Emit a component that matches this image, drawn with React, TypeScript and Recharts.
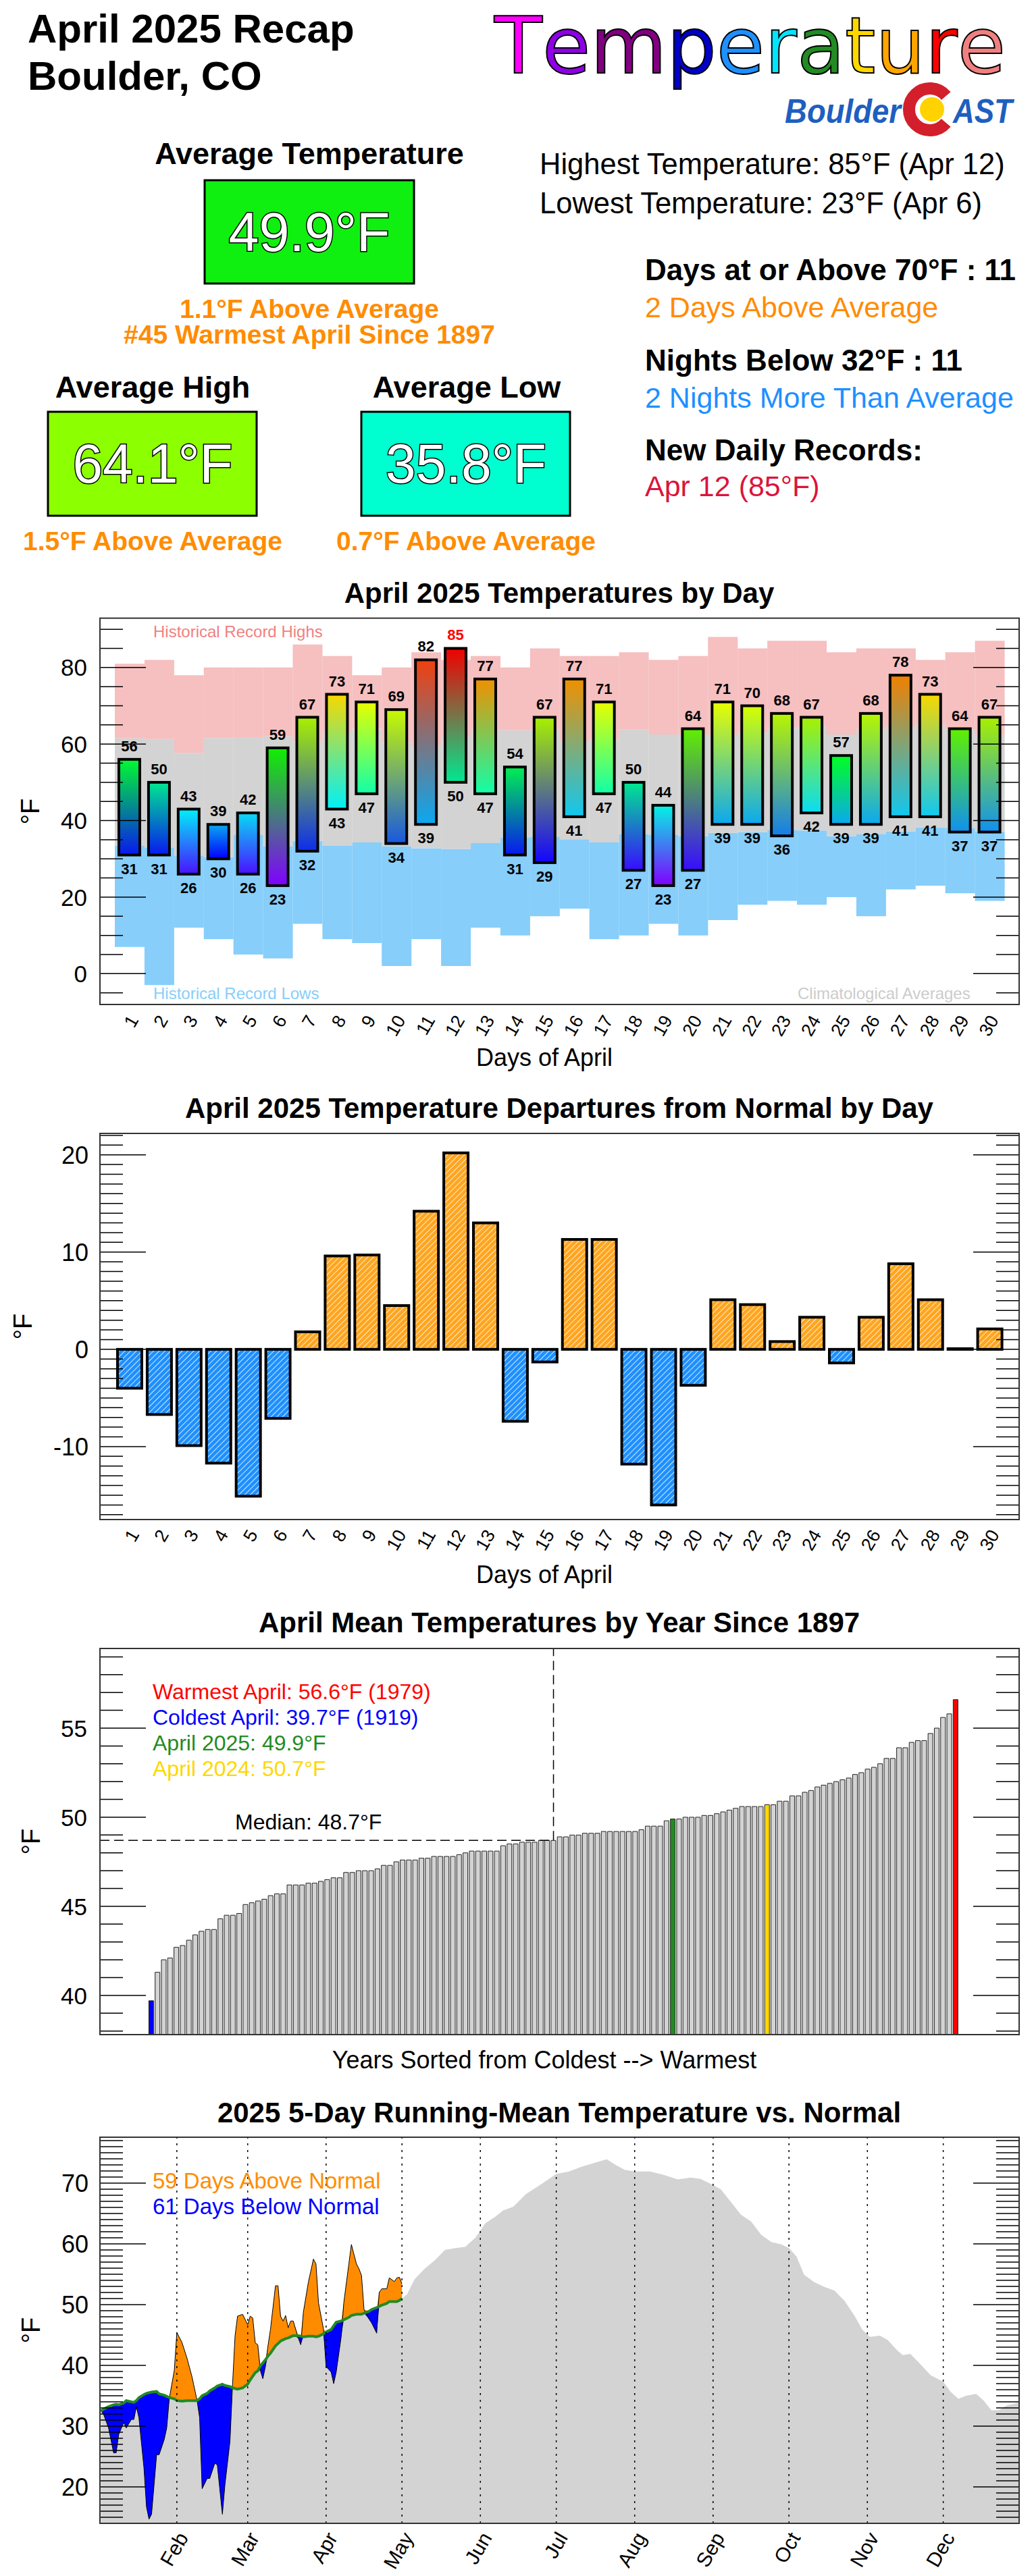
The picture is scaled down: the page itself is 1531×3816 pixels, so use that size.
import React from 'react';
import { ComposedChart, Bar, Area, Line, XAxis, YAxis, ReferenceLine, Cell } from 'recharts';

const FONT = '"Liberation Sans", Arial, Helvetica, sans-serif';
const PAGE_W = 1531;
const PAGE_H = 3816;
const PLOT_L = 148;
const PLOT_R = 1509;

// ---------- April 2025 daily data ----------
const days = [1, 2, 3, 4, 5, 6, 7, 8, 9, 10, 11, 12, 13, 14, 15, 16, 17, 18, 19, 20, 21, 22, 23, 24, 25, 26, 27, 28, 29, 30];
const dailyHighs = [56, 50, 43, 39, 42, 59, 67, 73, 71, 69, 82, 85, 77, 54, 67, 77, 71, 50, 44, 64, 71, 70, 68, 67, 57, 68, 78, 73, 64, 67];
const dailyLows = [31, 31, 26, 30, 26, 23, 32, 43, 47, 34, 39, 50, 47, 31, 29, 41, 47, 27, 23, 27, 39, 39, 36, 42, 39, 39, 41, 41, 37, 37];
const recordHighs = [81, 82, 78, 80, 80, 80, 86, 83, 78, 80, 84, 82, 83, 80, 85, 83, 83, 84, 82, 83, 88, 85, 87, 87, 84, 85, 85, 82, 84, 87];
const recordLows = [7, -3, 12, 9, 5, 4, 13, 9, 8, 2, 9, 2, 12, 10, 15, 17, 9, 10, 13, 10, 14, 18, 19, 18, 20, 15, 22, 23, 21, 19];
const normalHighs = [61.5, 61.3, 57.7, 61.6, 61.8, 62.0, 60.7, 63.2, 64.0, 60.5, 59.7, 61.8, 63.6, 63.6, 63.8, 60.6, 61.3, 63.8, 62.5, 62.5, 62.5, 63.0, 64.2, 64.6, 62.5, 63.8, 64.6, 65.0, 63.8, 62.5];
const normalLows = [33.4, 33.0, 30.9, 30.5, 36.2, 33.2, 34.7, 33.4, 34.3, 33.2, 32.8, 32.6, 34.1, 35.5, 35.7, 35.1, 34.3, 36.4, 36.2, 35.9, 36.8, 37.0, 37.6, 37.4, 35.9, 36.4, 37.2, 38.2, 38.1, 37.2];
const newRecordDays = [12];
const departures = [-4.0, -6.7, -9.9, -11.7, -15.1, -7.1, 1.8, 9.6, 9.7, 4.5, 14.2, 20.2, 13.0, -7.4, -1.3, 11.3, 11.3, -11.8, -16.0, -3.7, 5.1, 4.6, 0.8, 3.3, -1.4, 3.3, 8.8, 5.1, 0, 2.1];

// ---------- April means, sorted coldest -> warmest (1897-2025) ----------
const sortedAprilMeans = [
  39.7, 41.3, 42.0, 42.1, 42.7, 42.8, 43.1, 43.4, 43.6, 43.7, 43.7, 44.3, 44.5, 44.5, 44.6, 45.1, 45.2, 45.3, 45.4, 45.6,
  45.7, 45.7, 46.2, 46.2, 46.2, 46.3, 46.3, 46.4, 46.5, 46.6, 46.6, 46.9, 46.9, 47.0, 47.0, 47.0, 47.1, 47.3, 47.3, 47.5,
  47.6, 47.6, 47.6, 47.7, 47.7, 47.8, 47.8, 47.8, 47.8, 47.9, 48.0, 48.1, 48.1, 48.1, 48.1, 48.1, 48.4, 48.5, 48.5, 48.6,
  48.6, 48.6, 48.7, 48.7, 48.7, 48.9, 48.9, 49.0, 49.0, 49.1, 49.1, 49.1, 49.2, 49.2, 49.2, 49.2, 49.2, 49.2, 49.3, 49.5,
  49.5, 49.5, 49.8, 49.9, 49.9, 50.0, 50.0, 50.0, 50.1, 50.1, 50.2, 50.3, 50.4, 50.5, 50.6, 50.6, 50.6, 50.6, 50.7, 50.7,
  50.9, 50.9, 51.2, 51.2, 51.4, 51.5, 51.7, 51.8, 51.9, 52.0, 52.1, 52.2, 52.4, 52.5, 52.7, 52.8, 53.0, 53.3, 53.3, 53.9,
  53.9, 54.2, 54.3, 54.3, 54.7, 55.0, 55.6, 55.8, 56.6,
];
const warmestYear = 1979;
const coldestYear = 1919;
const mean2025 = 49.9;
const mean2024 = 50.7;

// ---------- 5-day running mean, 2025 year to date ----------
const ytdDoy = [2, 3, 5, 7, 8, 9, 11, 12, 14, 15, 16, 17, 19, 20, 21, 22, 24, 25, 27, 28, 29, 31, 32, 34, 36, 38, 40, 41, 42, 44, 45, 47, 48, 50, 51, 53, 54, 55, 56, 58, 60, 61, 62, 63, 64, 65, 66, 67, 68, 69, 71, 72, 73, 74, 75, 76, 77, 78, 80, 81, 82, 84, 86, 87, 88, 90, 91, 93, 94, 95, 97, 98, 100, 101, 103, 104, 105, 106, 108, 109, 111, 112, 113, 115, 116, 118, 119, 120, 121];
const ytdActual = [32.5, 32.0, 29.7, 25.6, 25.6, 28.6, 30.6, 29.7, 31.1, 31.1, 33.2, 31.4, 23.1, 16.7, 14.7, 15.5, 25.3, 25.3, 27.8, 29.7, 34.5, 39.2, 45.4, 43.8, 41.2, 38.1, 34.2, 31.4, 19.7, 21.4, 21.4, 23.9, 23.6, 15.5, 20.3, 27.5, 36.7, 44.8, 48.1, 48.4, 46.7, 48.1, 47.8, 43.7, 43.4, 39.2, 37.8, 39.8, 43.1, 45.9, 53.1, 53.1, 48.1, 47.3, 48.2, 46.2, 47.3, 47.3, 44.5, 43.4, 48.7, 53.7, 57.5, 56.7, 50.3, 45.9, 39.8, 38.9, 37.0, 38.9, 44.8, 50.3, 56.7, 59.9, 56.7, 55.9, 54.8, 49.2, 47.6, 47.0, 45.3, 52.0, 52.6, 52.6, 54.4, 53.8, 54.4, 54.5, 53.4];
const ytdNormal = [32.5, 32.8, 33.2, 33.5, 33.6, 33.5, 33.8, 34.2, 34.0, 33.9, 34.2, 34.7, 35.2, 35.4, 35.5, 35.6, 35.7, 35.3, 35.1, 34.9, 34.7, 34.5, 34.2, 34.1, 34.2, 34.2, 34.2, 34.5, 35.0, 35.4, 35.8, 36.3, 36.6, 36.9, 36.7, 36.5, 36.3, 36.2, 36.1, 36.3, 36.9, 37.6, 38.2, 38.8, 39.1, 39.9, 40.4, 40.9, 41.5, 42.0, 43.2, 43.6, 44.0, 44.2, 44.4, 44.5, 44.7, 44.9, 44.9, 44.8, 44.7, 44.8, 44.8, 44.7, 44.8, 45.2, 45.5, 45.9, 46.5, 47.1, 47.3, 47.5, 47.9, 48.2, 48.4, 48.4, 48.4, 48.6, 48.9, 49.2, 49.5, 49.7, 49.9, 50.2, 50.5, 50.5, 50.5, 50.7, 51.0];
const laterDoy = [123, 126, 130, 134, 138, 142, 146, 150, 154, 158, 161, 165, 170, 176, 182, 187, 192, 196, 200, 202, 205, 209, 213, 219, 224, 230, 235, 239, 244, 247, 251, 255, 259, 263, 267, 271, 274, 277, 280, 284, 288, 292, 296, 300, 303, 306, 310, 313, 317, 319, 322, 325, 330, 335, 338, 341, 344, 348, 351, 354, 357, 360, 365];
const laterNormal = [51.7, 54.2, 55.9, 57.3, 59.0, 59.3, 59.5, 61.0, 63.4, 64.5, 65.5, 66.1, 68.2, 69.8, 71.5, 71.9, 72.7, 73.2, 73.7, 73.9, 73.1, 72.2, 71.9, 71.9, 71.4, 70.6, 70.9, 70.7, 69.7, 69.0, 66.9, 64.8, 63.7, 61.5, 60.3, 59.9, 59.3, 57.9, 54.9, 53.7, 52.9, 52.3, 50.6, 48.1, 45.9, 44.7, 44.9, 44.2, 42.4, 41.7, 41.9, 40.6, 38.4, 37.3, 35.6, 34.5, 35.0, 35.3, 34.2, 32.6, 32.6, 33.4, 33.9];
const monthStarts = [32, 60, 91, 121, 152, 182, 213, 244, 274, 305, 335];
const monthNames = ['Feb', 'Mar', 'Apr', 'May', 'Jun', 'Jul', 'Aug', 'Sep', 'Oct', 'Nov', 'Dec'];

// ---------- tables built from the arrays ----------
const dailyRows = days.map((d, i) => ({
  day: d,
  high: dailyHighs[i],
  low: dailyLows[i],
  recLow: recordLows[i],
  blue: normalLows[i] - recordLows[i],
  grey: normalHighs[i] - normalLows[i],
  pink: recordHighs[i] - normalHighs[i],
}));
const departureRows = days.map((d, i) => ({ day: d, dep: departures[i] }));
const rankRows = sortedAprilMeans.map((t, i) => ({ rank: i, temp: t }));
const medianRank = Math.floor(sortedAprilMeans.length / 2);
const median = sortedAprilMeans[medianRank];
const runRows = [
  ...ytdDoy.map((d, i) => ({ doy: d, actual: ytdActual[i], normal: ytdNormal[i] })),
  ...laterDoy.map((d, i) => ({ doy: d, actual: null as number | null, normal: laterNormal[i] })),
];

const range = (a: number, b: number, s = 1) => {
  const out: number[] = [];
  for (let v = a; v <= b + 1e-9; v += s) out.push(v);
  return out;
};

// colour ramp for the daily bars
const ramp: [number, string][] = [
  [23, '#8000ff'], [26, '#4a10ff'], [30, '#0000ff'], [31, '#0818f0'], [34, '#1858e0'], [37, '#1090f0'],
  [39, '#0aa8f0'], [41, '#10c8f0'], [43, '#00f0f8'], [47, '#10ffa8'], [50, '#00e890'], [54, '#00f050'],
  [57, '#00ff20'], [59, '#10f000'], [64, '#60f000'], [67, '#a8f000'], [70, '#d8ff00'], [71, '#e8ff00'],
  [73, '#f8d800'], [77, '#f09000'], [78, '#f08000'], [82, '#f04010'], [85, '#f00000'],
];
function hex(c: string) {
  return [1, 3, 5].map((k) => parseInt(c.slice(k, k + 2), 16));
}
function tempColor(t: number) {
  if (t <= ramp[0][0]) return ramp[0][1];
  for (let i = 1; i < ramp.length; i++) {
    if (t <= ramp[i][0]) {
      const [t0, c0] = ramp[i - 1];
      const [t1, c1] = ramp[i];
      const f = (t - t0) / (t1 - t0);
      const a = hex(c0);
      const b = hex(c1);
      return `rgb(${a.map((v, k) => Math.round(v + (b[k] - v) * f)).join(',')})`;
    }
  }
  return ramp[ramp.length - 1][1];
}

function yTick(major: number, fontSize: number, labelX = 129) {
  return (props: any) => {
    const { y, payload } = props;
    const v = payload.value;
    const isMajor = Math.abs(v % major) < 1e-6;
    const len = isMajor ? 68 : 34;
    return (
      <g>
        <line x1={PLOT_L} x2={PLOT_L + len} y1={y} y2={y} stroke="#000" strokeWidth={1.5} />
        <line x1={PLOT_R - len} x2={PLOT_R} y1={y} y2={y} stroke="#000" strokeWidth={1.5} />
        {isMajor && (
          <text x={labelX} y={y} dy={fontSize * 0.36} textAnchor="end" fontSize={fontSize} fontFamily={FONT} fill="#000">
            {v}
          </text>
        )}
      </g>
    );
  };
}

function slantTick(baseY: number, dx: number, dy: number, fontSize: number, fmt?: (v: any) => string) {
  return (props: any) => {
    const { x, payload } = props;
    const label = fmt ? fmt(payload.value) : String(payload.value);
    return (
      <text transform={`translate(${x + dx},${baseY + dy}) rotate(-60)`} textAnchor="end" fontSize={fontSize} fontFamily={FONT} fill="#000">
        {label}
      </text>
    );
  };
}

function TempBar(props: any) {
  const { x, y, width, height, index, payload } = props;
  const top = Math.min(y, y + height);
  const h = Math.abs(height);
  const id = `tgrad${index}`;
  const cx = x + width / 2;
  const rec = newRecordDays.includes(payload.day);
  return (
    <g>
      <defs>
        <linearGradient id={id} x1="0" y1="0" x2="0" y2="1">
          <stop offset="0" stopColor={tempColor(payload.high)} />
          <stop offset="1" stopColor={tempColor(payload.low)} />
        </linearGradient>
      </defs>
      <rect x={x} y={top} width={width} height={h} fill={`url(#${id})`} stroke="#000" strokeWidth={4} />
      <text x={cx} y={top - 12} textAnchor="middle" fontSize={22} fontWeight="bold" fontFamily={FONT} fill={rec ? '#ff0000' : '#000'}>
        {payload.high}
      </text>
      <text x={cx} y={top + h + 28} textAnchor="middle" fontSize={22} fontWeight="bold" fontFamily={FONT} fill="#000">
        {payload.low}
      </text>
    </g>
  );
}

function DepartureBar(props: any) {
  const { x, y, width, height, payload } = props;
  const top = Math.min(y, y + height);
  const h = Math.abs(height);
  const fill = payload.dep >= 0 ? '#ffa51f' : '#1e90ff';
  return (
    <g>
      <rect x={x} y={top} width={width} height={h} fill={fill} />
      <rect x={x} y={top} width={width} height={h} fill="url(#hatch)" />
      <rect x={x} y={top} width={width} height={h} fill="none" stroke="#000" strokeWidth={4} />
    </g>
  );
}

function barColor(i: number) {
  if (i === 0) return '#0000ff';
  if (i === sortedAprilMeans.length - 1) return '#ff0000';
  if (i === sortedAprilMeans.indexOf(mean2025)) return '#228b22';
  if (i === sortedAprilMeans.indexOf(mean2024)) return '#ffd700';
  return '#d3d3d3';
}

const T = (p: any) => <text fontFamily={FONT} fill="#000" {...p} />;

// rainbow title, one glyph at a time (DejaVu Sans advance widths, em)
const titleLetters: [string, string, number][] = [
  ['T', '#ff00ff', 0.611], ['e', '#8f00e6', 0.615], ['m', '#800080', 0.974], ['p', '#0000c8', 0.635],
  ['e', '#1e90ff', 0.615], ['r', '#00e5ff', 0.411], ['a', '#228b22', 0.613], ['t', '#ffd700', 0.392],
  ['u', '#ffa500', 0.634], ['r', '#ff0000', 0.411], ['e', '#f08080', 0.615],
];

function RainbowTitle() {
  const size = 116;
  let x = 732;
  return (
    <g>
      {titleLetters.map(([c, col, w], i) => {
        const el = (
          <text key={i} x={x} y={108} fontSize={size} fontFamily='"DejaVu Sans", sans-serif' fill={col} stroke="#000" strokeWidth={2}>
            {c}
          </text>
        );
        x += w * size;
        return el;
      })}
    </g>
  );
}

function Overlay() {
  const frames = [915.7, 1679, 2442, 3166];
  const frameH = [572.3, 572, 572, 572];
  return (
    <svg width={PAGE_W} height={PAGE_H} style={{ position: 'absolute', left: 0, top: 0, pointerEvents: 'none' }}>
      <defs>
        <pattern id="hatch" width="6" height="6" patternUnits="userSpaceOnUse" patternTransform="rotate(45)">
          <line x1="0" y1="0" x2="0" y2="6" stroke="#fff" strokeWidth="1.6" />
        </pattern>
      </defs>
      {/* header */}
      <T x={41} y={63} fontSize={60} fontWeight="bold">April 2025 Recap</T>
      <T x={41} y={133} fontSize={60} fontWeight="bold">Boulder, CO</T>
      <RainbowTitle />
      <text x={1162} y={182} fontSize={50} fontWeight="bold" fontStyle="italic" fontFamily={FONT} fill="#1f5fbf" textLength={172} lengthAdjust="spacingAndGlyphs">Boulder</text>
      <path d="M 1400.7 142.1 A 31 31 0 1 0 1400.7 181.9" fill="none" stroke="#d21f2b" strokeWidth={18} />
      <circle cx={1380} cy={162} r={18} fill="#ffd200" />
      <text x={1411} y={182} fontSize={50} fontWeight="bold" fontStyle="italic" fontFamily={FONT} fill="#1f5fbf" textLength={88} lengthAdjust="spacingAndGlyphs">AST</text>

      <T x={458} y={243} fontSize={45} fontWeight="bold" textAnchor="middle">Average Temperature</T>
      <rect x={303} y={267} width={310} height={153} fill="#10f010" stroke="#000" strokeWidth={3} />
      <T x={458} y={372} fontSize={81} textAnchor="middle" fill="#fff" stroke="#000" strokeWidth={3} paintOrder="stroke" textLength={239} lengthAdjust="spacingAndGlyphs">49.9°F</T>
      <T x={458} y={471} fontSize={39} fontWeight="bold" textAnchor="middle" fill="#ff8c00">1.1°F Above Average</T>
      <T x={458} y={509} fontSize={39} fontWeight="bold" textAnchor="middle" fill="#ff8c00">#45 Warmest April Since 1897</T>

      <T x={226} y={589} fontSize={45} fontWeight="bold" textAnchor="middle">Average High</T>
      <T x={691} y={589} fontSize={45} fontWeight="bold" textAnchor="middle">Average Low</T>
      <rect x={71} y={610} width={309} height={154} fill="#8cff00" stroke="#000" strokeWidth={3} />
      <rect x={535} y={610} width={309} height={154} fill="#00ffd0" stroke="#000" strokeWidth={3} />
      <T x={226} y={715} fontSize={81} textAnchor="middle" fill="#fff" stroke="#000" strokeWidth={3} paintOrder="stroke" textLength={237} lengthAdjust="spacingAndGlyphs">64.1°F</T>
      <T x={690} y={715} fontSize={81} textAnchor="middle" fill="#fff" stroke="#000" strokeWidth={3} paintOrder="stroke" textLength={238} lengthAdjust="spacingAndGlyphs">35.8°F</T>
      <T x={226} y={815} fontSize={39} fontWeight="bold" textAnchor="middle" fill="#ff8c00">1.5°F Above Average</T>
      <T x={690} y={815} fontSize={39} fontWeight="bold" textAnchor="middle" fill="#ff8c00">0.7°F Above Average</T>

      <T x={799} y={258} fontSize={43.5}>Highest Temperature: 85°F (Apr 12)</T>
      <T x={799} y={316} fontSize={43.5}>Lowest Temperature: 23°F (Apr 6)</T>
      <T x={955} y={415} fontSize={44} fontWeight="bold">Days at or Above 70°F : 11</T>
      <T x={955} y={470} fontSize={43} fill="#ff8c00">2 Days Above Average</T>
      <T x={955} y={549} fontSize={44} fontWeight="bold">Nights Below 32°F : 11</T>
      <T x={955} y={604} fontSize={43} fill="#1e90ff">2 Nights More Than Average</T>
      <T x={955} y={682} fontSize={44} fontWeight="bold">New Daily Records:</T>
      <T x={955} y={735} fontSize={43} fill="#dc143c">Apr 12 (85°F)</T>

      {/* chart titles and axis labels */}
      <T x={828} y={893} fontSize={42} fontWeight="bold" textAnchor="middle">April 2025 Temperatures by Day</T>
      <T x={806} y={1579} fontSize={36} textAnchor="middle">Days of April</T>
      <T transform="translate(58,1202) rotate(-90)" fontSize={38} textAnchor="middle">°F</T>
      <T x={227} y={944} fontSize={24} fill="#f08080">Historical Record Highs</T>
      <T x={227} y={1480} fontSize={24} fill="#87cefa">Historical Record Lows</T>
      <T x={1181} y={1480} fontSize={24} fill="#cccccc">Climatological Averages</T>

      <T x={828} y={1656} fontSize={42} fontWeight="bold" textAnchor="middle">April 2025 Temperature Departures from Normal by Day</T>
      <T x={806} y={2345} fontSize={36} textAnchor="middle">Days of April</T>
      <T transform="translate(47,1965) rotate(-90)" fontSize={38} textAnchor="middle">°F</T>

      <T x={828} y={2418} fontSize={42} fontWeight="bold" textAnchor="middle">April Mean Temperatures by Year Since 1897</T>
      <T x={806} y={3064} fontSize={36} textAnchor="middle">Years Sorted from Coldest --&gt; Warmest</T>
      <T transform="translate(59,2728) rotate(-90)" fontSize={38} textAnchor="middle">°F</T>
      <T x={226} y={2517} fontSize={32} fill="#ff0000">{`Warmest April: ${sortedAprilMeans[sortedAprilMeans.length - 1].toFixed(1)}°F (${warmestYear})`}</T>
      <T x={226} y={2555} fontSize={32} fill="#0000ff">{`Coldest April: ${sortedAprilMeans[0].toFixed(1)}°F (${coldestYear})`}</T>
      <T x={226} y={2593} fontSize={32} fill="#228b22">{`April 2025: ${mean2025.toFixed(1)}°F`}</T>
      <T x={226} y={2631} fontSize={32} fill="#ffd700">{`April 2024: ${mean2024.toFixed(1)}°F`}</T>
      <T x={348} y={2710} fontSize={32}>{`Median: ${median.toFixed(1)}°F`}</T>

      <T x={828} y={3144} fontSize={42} fontWeight="bold" textAnchor="middle">2025 5-Day Running-Mean Temperature vs. Normal</T>
      <T transform="translate(59,3452) rotate(-90)" fontSize={38} textAnchor="middle">°F</T>
      <T x={226} y={3242} fontSize={33} fill="#ff8c00">59 Days Above Normal</T>
      <T x={226} y={3280} fontSize={33} fill="#0000ff">61 Days Below Normal</T>

      {frames.map((t, i) => (
        <rect key={i} x={PLOT_L} y={t} width={PLOT_R - PLOT_L} height={frameH[i]} fill="none" stroke="#333" strokeWidth={2} />
      ))}
    </svg>
  );
}

const c1Ticks = range(-5, 90, 5);
const c2Ticks = range(-17, 22, 1);
const c3Ticks = range(38, 59, 1);
const c4Ticks = range(14, 77, 1);

export default function App() {
  return (
    <div style={{ position: 'absolute', left: 0, top: 0, width: PAGE_W, height: PAGE_H, background: '#fff', overflow: 'hidden', fontFamily: FONT }}>
      {/* Chart 1: daily highs/lows over record and normal bands */}
      <div style={{ position: 'absolute', left: 0, top: 860 }}>
        <ComposedChart width={PAGE_W} height={720} data={dailyRows} margin={{ top: 55.7, right: 22, bottom: 10, left: 0 }} barCategoryGap={0} barGap={0}>
          <XAxis xAxisId="bg" dataKey="day" hide padding={{ left: 22, right: 21.5 }} />
          <XAxis dataKey="day" padding={{ left: 22, right: 21.5 }} interval={0} tickLine={false} axisLine={false} height={82} tick={slantTick(628, 14, 23, 27)} />
          <Bar xAxisId="bg" dataKey="recLow" stackId="bg" fill="transparent" isAnimationActive={false} />
          <Bar xAxisId="bg" dataKey="blue" stackId="bg" fill="#87cefa" isAnimationActive={false} />
          <Bar xAxisId="bg" dataKey="grey" stackId="bg" fill="#d3d3d3" isAnimationActive={false} />
          <Bar xAxisId="bg" dataKey="pink" stackId="bg" fill="#f6bfc0" isAnimationActive={false} />
          <Bar dataKey={(d: any) => [d.low, d.high]} barSize={31} shape={TempBar} isAnimationActive={false} />
          <YAxis width={148} domain={[-8.06, 92.9]} allowDataOverflow ticks={c1Ticks} interval={0} tickLine={false} axisLine={false} tick={yTick(20, 35)} />
        </ComposedChart>
      </div>

      {/* Chart 2: departures */}
      <div style={{ position: 'absolute', left: 0, top: 1600 }}>
        <ComposedChart width={PAGE_W} height={743} data={departureRows} margin={{ top: 79, right: 22, bottom: 10, left: 0 }}>
          <XAxis dataKey="day" padding={{ left: 22, right: 21.5 }} interval={0} tickLine={false} axisLine={false} height={82} tick={slantTick(651, 15, 22, 27)} />
          <Bar dataKey="dep" barSize={36} minPointSize={1} shape={DepartureBar} isAnimationActive={false} />
          <YAxis width={148} domain={[-17.5, 22.2]} allowDataOverflow ticks={c2Ticks} interval={0} tickLine={false} axisLine={false} tick={yTick(10, 36, 131)} />
        </ComposedChart>
      </div>

      {/* Chart 3: sorted April means */}
      <div style={{ position: 'absolute', left: 0, top: 2430 }}>
        <ComposedChart width={PAGE_W} height={604} data={rankRows} margin={{ top: 12, right: 22, bottom: 20, left: 0 }}>
          <XAxis dataKey="rank" type="number" domain={[-8.17, 138.1]} allowDataOverflow hide ticks={rankRows.map((r) => r.rank)} />
          <ReferenceLine segment={[{ x: -8.17, y: median }, { x: medianRank, y: median }]} stroke="#000" strokeWidth={1.5} strokeDasharray="14 7" ifOverflow="visible" />
          <ReferenceLine segment={[{ x: medianRank, y: median }, { x: medianRank, y: 59.47 }]} stroke="#000" strokeWidth={1.5} strokeDasharray="14 7" ifOverflow="visible" />
          <Bar dataKey="temp" barSize={7} stroke="#222" strokeWidth={1} isAnimationActive={false}>
            {rankRows.map((r, i) => (
              <Cell key={i} fill={barColor(i)} />
            ))}
          </Bar>
          <YAxis width={148} domain={[37.8, 59.47]} allowDataOverflow ticks={c3Ticks} interval={0} tickLine={false} axisLine={false} tick={yTick(5, 35)} />
        </ComposedChart>
      </div>

      {/* Chart 4: running mean vs normal */}
      <div style={{ position: 'absolute', left: 0, top: 3150 }}>
        <ComposedChart width={PAGE_W} height={666} data={runRows} margin={{ top: 16, right: 22, bottom: 8, left: 0 }}>
          <XAxis
            dataKey="doy"
            type="number"
            domain={[1.6, 365]}
            allowDataOverflow
            ticks={monthStarts}
            interval={0}
            tickLine={false}
            axisLine={false}
            height={70}
            tick={slantTick(588, 18, 21, 30, (v) => monthNames[monthStarts.indexOf(v)])}
          />
          <Area dataKey="normal" type="linear" baseValue={14} fill="#d3d3d3" fillOpacity={1} stroke="none" isAnimationActive={false} />
          <Area
            dataKey={(r: any) => (r.actual == null ? null : [r.normal, Math.max(r.actual, r.normal)])}
            type="linear"
            fill="#ff8c00"
            fillOpacity={1}
            stroke="none"
            isAnimationActive={false}
          />
          <Area
            dataKey={(r: any) => (r.actual == null ? null : [Math.min(r.actual, r.normal), r.normal])}
            type="linear"
            fill="#0000ff"
            fillOpacity={1}
            stroke="none"
            isAnimationActive={false}
          />
          <Line dataKey="actual" type="linear" stroke="#000" strokeWidth={1} dot={false} isAnimationActive={false} />
          <Line dataKey={(r: any) => (r.actual == null ? null : r.normal)} type="linear" stroke="#228b22" strokeWidth={4} dot={false} isAnimationActive={false} />
          {monthStarts.map((m) => (
            <ReferenceLine key={m} x={m} stroke="#000" strokeWidth={1.5} strokeDasharray="3 7" />
          ))}
          <YAxis width={148} domain={[14, 77.55]} allowDataOverflow ticks={c4Ticks} interval={0} tickLine={false} axisLine={false} tick={yTick(10, 36, 131)} />
        </ComposedChart>
      </div>

      <Overlay />
    </div>
  );
}
